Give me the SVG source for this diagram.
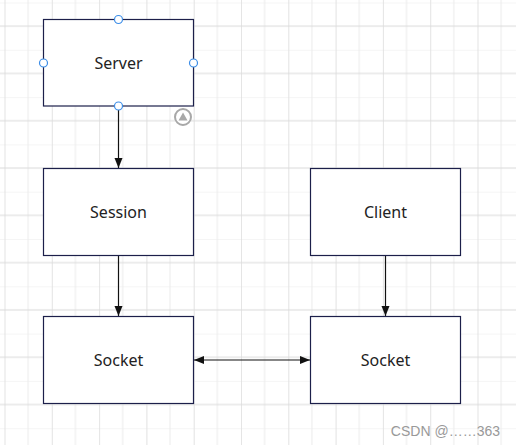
<svg xmlns="http://www.w3.org/2000/svg" width="516" height="445" viewBox="0 0 516 445">
<defs>
<pattern id="grid" x="4.5" y="2.5" width="47.3" height="47.3" patternUnits="userSpaceOnUse">
<rect width="47.3" height="47.3" fill="#ffffff"/>
<path d="M0 0V47.3M0 0H47.3" stroke="#ebebeb" stroke-width="1"/>
<path d="M23.65 0V47.3" stroke="#ebebeb" stroke-width="1"/>
<path d="M0 23.65H47.3" stroke="#dadada" stroke-width="1.2"/>
</pattern>
<pattern id="gridv" x="4.5" y="0" width="47.3" height="47.3" patternUnits="userSpaceOnUse">
<path d="M0 0V47.3" stroke="#dadada" stroke-width="1.2"/>
</pattern>
<marker id="arr" viewBox="0 0 10 10" refX="10" refY="5" markerWidth="10" markerHeight="10" markerUnits="userSpaceOnUse" orient="auto-start-reverse">
<path d="M0 1L10 5L0 9Z" fill="#111"/>
</marker>
<style>
.box{fill:#fff;stroke:#1c1f4a;stroke-width:1.2}
.lbl{font-family:"Noto Sans","Liberation Sans",sans-serif;font-size:16px;fill:#222;text-anchor:middle}
.con{stroke:#111;stroke-width:1.2;fill:none}
.h{fill:#fff;stroke:#3d8ee8;stroke-width:1.2}
</style>
</defs>
<rect width="516" height="445" fill="url(#grid)"/>
<rect width="516" height="445" fill="url(#gridv)"/>
<g id="connectors">
<path class="con" d="M118.5 106V168" marker-end="url(#arr)"/>
<path class="con" d="M118.5 256V316" marker-end="url(#arr)"/>
<path class="con" d="M385.5 256V316" marker-end="url(#arr)"/>
<path class="con" d="M194 360H310" marker-start="url(#arr)" marker-end="url(#arr)"/>
</g>
<g id="server">
<rect class="box" x="43.5" y="19.5" width="150" height="86.5"/>
<text class="lbl" x="118.5" y="69">Server</text>
<circle class="h" cx="118.5" cy="19.5" r="4"/>
<circle class="h" cx="43.5" cy="63" r="4"/>
<circle class="h" cx="193.5" cy="63" r="4"/>
<circle class="h" cx="118.5" cy="106" r="4"/>
<circle cx="183" cy="117" r="8" fill="#fff" stroke="#a8a8a8" stroke-width="2"/>
<path d="M178.5 120.5L183 112.5L187.5 120.5Z" fill="#a8a8a8"/>
</g>
<g id="session">
<rect class="box" x="43.5" y="168.5" width="150" height="87"/>
<text class="lbl" x="118.5" y="218">Session</text>
</g>
<g id="client">
<rect class="box" x="310.5" y="168.5" width="150" height="87"/>
<text class="lbl" x="385.5" y="218">Client</text>
</g>
<g id="socket1">
<rect class="box" x="43.5" y="316.5" width="150" height="87"/>
<text class="lbl" x="118.5" y="366">Socket</text>
</g>
<g id="socket2">
<rect class="box" x="310.5" y="316.5" width="150" height="87"/>
<text class="lbl" x="385.5" y="366">Socket</text>
</g>
<text x="500" y="436" font-family="'Liberation Sans',Arial,sans-serif" font-size="14" fill="#999" text-anchor="end">CSDN @……363</text>
</svg>
